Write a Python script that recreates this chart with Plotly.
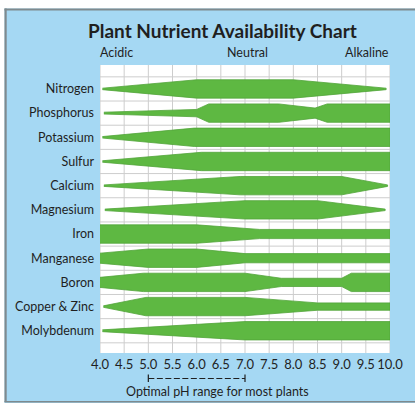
import plotly.graph_objects as go

# ---------------- data ----------------
nutrients = ["Nitrogen", "Phosphorus", "Potassium", "Sulfur", "Calcium", "Magnesium",
             "Iron", "Manganese", "Boron", "Copper & Zinc", "Molybdenum"]

nitrogen_ph = [4.05, 6.0, 8.0, 9.92]
nitrogen_w = [0.08, 1.0, 1.0, 0.08]

phosphorus_ph = [4.08, 6.0, 6.25, 7.7, 8.45, 8.7, 10.0]
phosphorus_w = [0.1, 0.4, 1.0, 1.0, 0.55, 1.0, 1.0]

potassium_ph = [4.05, 5.95, 10.0]
potassium_w = [0.08, 1.0, 1.0]

sulfur_ph = [4.05, 6.1, 10.0]
sulfur_w = [0.08, 1.0, 1.0]

calcium_ph = [4.08, 6.9, 9.0, 9.95]
calcium_w = [0.08, 1.0, 1.0, 0.08]

magnesium_ph = [4.1, 7.0, 8.5, 9.9]
magnesium_w = [0.08, 1.0, 1.0, 0.08]

iron_ph = [4.0, 6.0, 7.3, 10.0]
iron_w = [1.0, 1.0, 0.5, 0.5]

manganese_ph = [4.0, 5.0, 6.0, 7.0, 10.0]
manganese_w = [0.55, 1.0, 1.0, 0.5, 0.5]

boron_ph = [4.0, 4.9, 7.0, 7.75, 9.0, 9.2, 10.0]
boron_w = [0.55, 1.0, 1.0, 0.45, 0.45, 1.0, 1.0]

copper_zinc_ph = [4.07, 4.95, 7.0, 8.5, 10.0]
copper_zinc_w = [0.08, 1.0, 1.0, 0.4, 0.4]

molybdenum_ph = [4.05, 7.0, 10.0]
molybdenum_w = [0.1, 1.0, 1.0]

profiles = [
    (nitrogen_ph, nitrogen_w), (phosphorus_ph, phosphorus_w), (potassium_ph, potassium_w),
    (sulfur_ph, sulfur_w), (calcium_ph, calcium_w), (magnesium_ph, magnesium_w),
    (iron_ph, iron_w), (manganese_ph, manganese_w), (boron_ph, boron_w),
    (copper_zinc_ph, copper_zinc_w), (molybdenum_ph, molybdenum_w),
]

ph_ticks = [4.0, 4.5, 5.0, 5.5, 6.0, 6.5, 7.0, 7.5, 8.0, 8.5, 9.0, 9.5, 10.0]
scale_labels = ["Acidic", "Neutral", "Alkaline"]
optimal_range = [5.0, 7.0]

# ---------------- styling ----------------
GREEN = "#5eb842"
EDGE = "#52a53a"
BLUE = "#a5d8f3"
FRAME = "#7f8a8e"
TEXT = "#1f1f1f"
GRID = "#cdcdcd"
FONT = "Lato"
HALF = 0.38

Y_TOP, Y_BOTTOM = -0.99, 10.92
row_edges = [i + 0.5 for i in range(-1, len(nutrients))]

fig = go.Figure()

# graph-paper grid, drawn first so the bands sit on top of it
gx, gy = [], []
for v in ph_ticks:
    gx += [v, v, None]
    gy += [Y_TOP, Y_BOTTOM, None]
for v in row_edges:
    gx += [ph_ticks[0], ph_ticks[-1], None]
    gy += [v, v, None]
fig.add_trace(go.Scatter(x=gx, y=gy, mode="lines", line=dict(color=GRID, width=1),
                         hoverinfo="skip", showlegend=False, connectgaps=False))

for i, (ph, w) in enumerate(profiles):
    xs = list(ph) + list(reversed(ph))
    ys = [i - HALF * v for v in w] + [i + HALF * v for v in reversed(w)]
    fig.add_trace(go.Scatter(
        x=xs, y=ys, mode="lines", fill="toself", fillcolor=GREEN,
        line=dict(color=EDGE, width=0.8), hoverinfo="skip", showlegend=False,
    ))

W, H = 415, 403
L, R, T, B = 100, 25, 65, 50
pw, ph_ = W - L - R, H - T - B


def px_x(p):
    return (p - L) / pw


def px_y(p):
    return (H - B - p) / ph_


shapes = [
    # white outer strips (top and left)
    dict(type="rect", xref="paper", yref="paper", x0=px_x(-5), x1=px_x(420),
         y0=px_y(8.5), y1=px_y(-5), fillcolor="white", line=dict(width=0)),
    dict(type="rect", xref="paper", yref="paper", x0=px_x(-5), x1=px_x(4.5),
         y0=px_y(410), y1=px_y(-5), fillcolor="white", line=dict(width=0)),
    # grey frame
    dict(type="line", xref="paper", yref="paper", x0=px_x(4.5), x1=px_x(420),
         y0=px_y(9.5), y1=px_y(9.5), line=dict(color=FRAME, width=2.2)),
    dict(type="line", xref="paper", yref="paper", x0=px_x(5.6), x1=px_x(5.6),
         y0=px_y(8.5), y1=px_y(402), line=dict(color=FRAME, width=2.2)),
    dict(type="line", xref="paper", yref="paper", x0=px_x(4.5), x1=px_x(420),
         y0=px_y(401.8), y1=px_y(401.8), line=dict(color=FRAME, width=1.6)),
    # optimal range bracket
    dict(type="line", xref="x", yref="paper", x0=optimal_range[0], x1=optimal_range[1],
         y0=px_y(378.5), y1=px_y(378.5), line=dict(color=TEXT, width=1, dash="6px,2.5px")),
    dict(type="line", xref="x", yref="paper", x0=optimal_range[0], x1=optimal_range[0],
         y0=px_y(374.5), y1=px_y(382), line=dict(color=TEXT, width=1.2)),
    dict(type="line", xref="x", yref="paper", x0=optimal_range[1], x1=optimal_range[1],
         y0=px_y(374.5), y1=px_y(382), line=dict(color=TEXT, width=1.2)),
]

annotations = [
    dict(text="<b>Plant Nutrient Availability Chart</b>", xref="paper", yref="paper",
         x=px_x(222), y=px_y(31), showarrow=False, xanchor="center", yanchor="middle",
         font=dict(family=FONT, size=19, color=TEXT)),
    dict(text=scale_labels[0], xref="paper", yref="paper", x=px_x(116), y=px_y(53),
         showarrow=False, xanchor="center", yanchor="middle",
         font=dict(family=FONT, size=12.5, color=TEXT)),
    dict(text=scale_labels[1], xref="paper", yref="paper", x=px_x(247), y=px_y(53),
         showarrow=False, xanchor="center", yanchor="middle",
         font=dict(family=FONT, size=12.5, color=TEXT)),
    dict(text=scale_labels[2], xref="paper", yref="paper", x=px_x(367), y=px_y(53),
         showarrow=False, xanchor="center", yanchor="middle",
         font=dict(family=FONT, size=12.5, color=TEXT)),
    dict(text="Optimal pH range for most plants", xref="paper", yref="paper",
         x=px_x(217.5), y=px_y(391), showarrow=False, xanchor="center", yanchor="middle",
         font=dict(family=FONT, size=12.5, color=TEXT)),
]

fig.update_layout(
    width=W, height=H,
    margin=dict(l=L, r=R, t=T, b=B, pad=0),
    paper_bgcolor=BLUE, plot_bgcolor="white",
    shapes=shapes, annotations=annotations,
    font=dict(family=FONT, color=TEXT),
    xaxis=dict(range=[4, 10], tickvals=ph_ticks, ticktext=[f"{v:.1f}" for v in ph_ticks],
               showgrid=False, zeroline=False,
               showline=False, ticks="", tickfont=dict(family=FONT, size=13, color=TEXT),
               ticklabelstandoff=2, fixedrange=True),
    yaxis=dict(range=[Y_BOTTOM, Y_TOP], tickvals=list(range(len(nutrients))), ticktext=nutrients,
               showgrid=False, zeroline=False, showline=False, ticks="",
               tickfont=dict(family=FONT, size=12.5, color=TEXT), ticklabelstandoff=5,
               fixedrange=True),
)

fig.write_html("out.html", config={"displayModeBar": False, "staticPlot": True})

# remove the browser's default page margin so the figure sits at the window origin
with open("out.html", "r", encoding="utf-8") as fh:
    html = fh.read()
html = html.replace("<head>", "<head><style>html,body{margin:0;padding:0;overflow:hidden;}</style>", 1)
with open("out.html", "w", encoding="utf-8") as fh:
    fh.write(html)
